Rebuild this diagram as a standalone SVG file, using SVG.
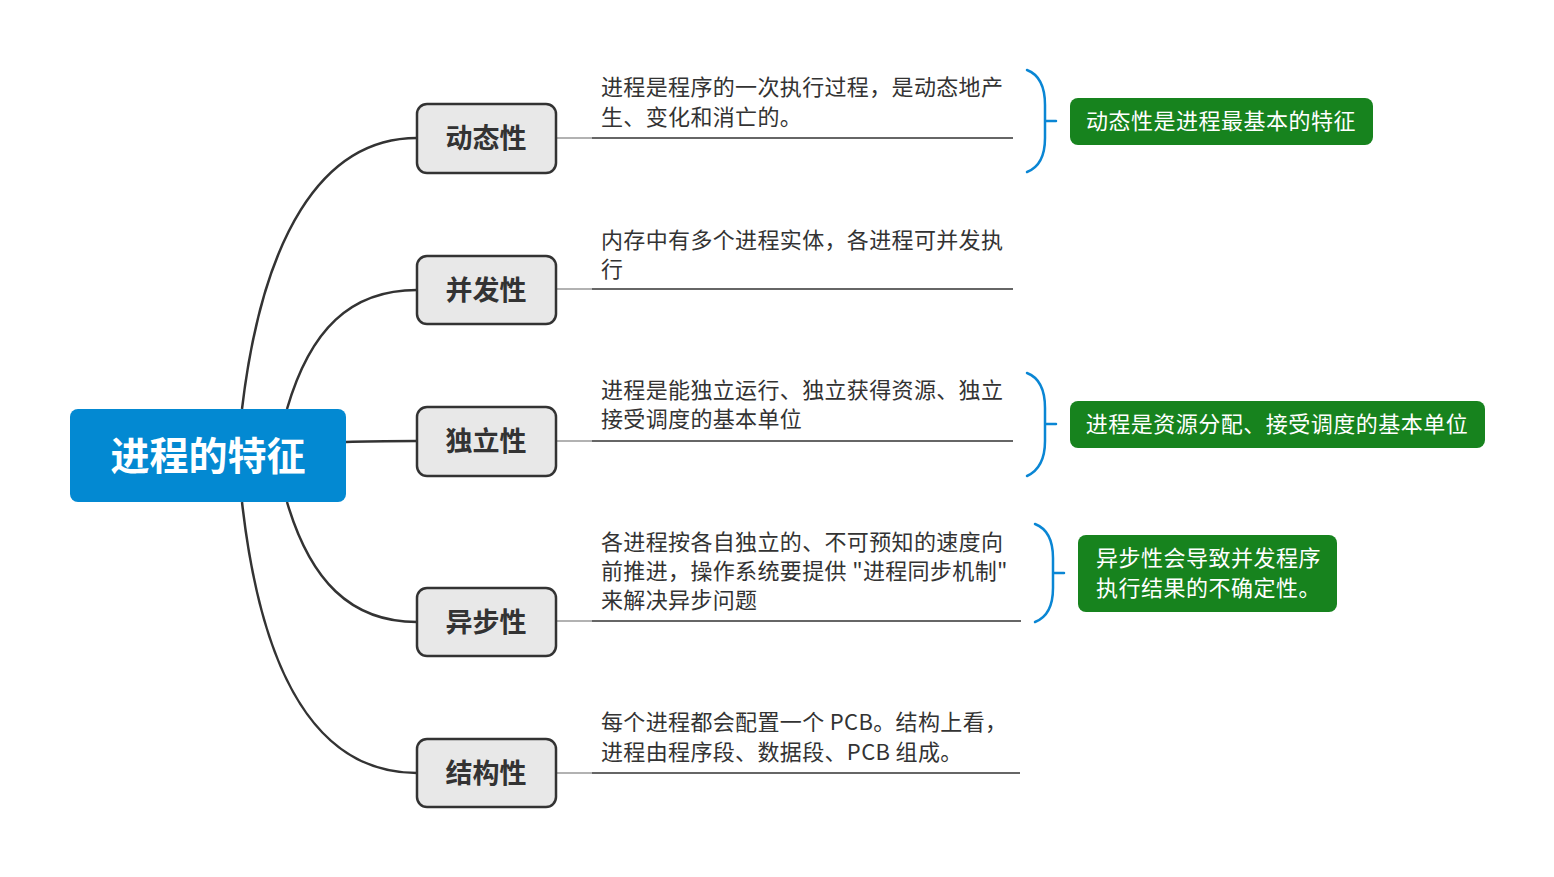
<svg xmlns="http://www.w3.org/2000/svg" width="1554" height="877" viewBox="0 0 1554 877">
<style>
.root{fill:#0389D2}
.rootT{font-family:"Noto Sans CJK SC",sans-serif;font-size:39px;font-weight:bold;fill:#fff}
.br{fill:#E8E8E8;stroke:#333;stroke-width:2.5}
.brT{font-family:"Noto Sans CJK SC",sans-serif;font-size:27px;font-weight:bold;fill:#333}
.con{fill:none;stroke:#333;stroke-width:2.5}
.ul{stroke:#333;stroke-width:1.6}
.ulg{stroke:#999;stroke-width:1.6}
.txt{font-family:"Noto Sans CJK SC",sans-serif;font-size:22px;letter-spacing:0.35px;fill:#333}
.brace{fill:none;stroke:#0A86D4;stroke-width:2.5;stroke-linecap:round}
.gb{fill:#17831E}
.gT{font-family:"Noto Sans CJK SC",sans-serif;font-size:22px;letter-spacing:0.5px;fill:#fff}
</style>
<g id="connectors">
<path class="con" d="M242,409 C262,240 320,138 417,138"/>
<path class="con" d="M287,409 C310,330 350,290 417,290"/>
<path class="con" d="M346,442 C370,441 390,441 417,441"/>
<path class="con" d="M287,502 C310,580 350,622 417,622"/>
<path class="con" d="M242,502 C262,680 320,773 417,773"/>
<line class="ulg" x1="556" y1="138" x2="592" y2="138"/>
<line class="ul" x1="592" y1="138" x2="1013" y2="138"/>
<line class="ulg" x1="556" y1="289" x2="592" y2="289"/>
<line class="ul" x1="592" y1="289" x2="1013" y2="289"/>
<line class="ulg" x1="556" y1="441" x2="592" y2="441"/>
<line class="ul" x1="592" y1="441" x2="1013" y2="441"/>
<line class="ulg" x1="556" y1="621" x2="592" y2="621"/>
<line class="ul" x1="592" y1="621" x2="1021" y2="621"/>
<line class="ulg" x1="556" y1="773" x2="592" y2="773"/>
<line class="ul" x1="592" y1="773" x2="1020" y2="773"/>
</g>
<g id="root">
<rect class="root" x="70" y="409" width="276" height="93" rx="8"/>
<text class="rootT" x="208" y="470" text-anchor="middle">进程的特征</text>
</g>
<g id="n1">
<rect class="br" x="417" y="104" width="139" height="69" rx="10"/>
<text class="brT" x="486" y="148" text-anchor="middle">动态性</text>
</g>
<g id="n2">
<rect class="br" x="417" y="256" width="139" height="68" rx="10"/>
<text class="brT" x="486" y="300" text-anchor="middle">并发性</text>
</g>
<g id="n3">
<rect class="br" x="417" y="407" width="139" height="69" rx="10"/>
<text class="brT" x="486" y="451" text-anchor="middle">独立性</text>
</g>
<g id="n4">
<rect class="br" x="417" y="588" width="139" height="68" rx="10"/>
<text class="brT" x="486" y="632" text-anchor="middle">异步性</text>
</g>
<g id="n5">
<rect class="br" x="417" y="739" width="139" height="68" rx="10"/>
<text class="brT" x="486" y="783" text-anchor="middle">结构性</text>
</g>
<g id="t1">
<text class="txt" x="601" y="95">进程是程序的一次执行过程，是动态地产</text>
<text class="txt" x="601" y="125">生、变化和消亡的。</text>
</g>
<g id="t2">
<text class="txt" x="601" y="248">内存中有多个进程实体，各进程可并发执</text>
<text class="txt" x="601" y="277">行</text>
</g>
<g id="t3">
<text class="txt" x="601" y="398">进程是能独立运行、独立获得资源、独立</text>
<text class="txt" x="601" y="427">接受调度的基本单位</text>
</g>
<g id="t4">
<text class="txt" x="601" y="550">各进程按各自独立的、不可预知的速度向</text>
<text class="txt" x="601" y="579">前推进，操作系统要提供 "进程同步机制"</text>
<text class="txt" x="601" y="608">来解决异步问题</text>
</g>
<g id="t5">
<text class="txt" x="601" y="730">每个进程都会配置一个 PCB。结构上看，</text>
<text class="txt" x="601" y="760">进程由程序段、数据段、PCB 组成。</text>
</g>
<g id="brace1">
<path class="brace" d="M1027,70 C1040,75 1045,88 1045,105 L1045,138 C1045,155 1040,167 1027,172 M1045,121 L1056,121"/>
</g>
<g id="brace2">
<path class="brace" d="M1027,373 C1040,378 1045,391 1045,408 L1045,441 C1045,458 1040,470 1027,476 M1045,424 L1056,424"/>
</g>
<g id="brace3">
<path class="brace" d="M1035,524 C1048,529 1053,542 1053,558 L1053,588 C1053,605 1048,617 1035,622 M1053,573 L1064,573"/>
</g>
<g id="g1">
<rect class="gb" x="1070" y="98" width="303" height="47" rx="8"/>
<text class="gT" x="1221" y="129" text-anchor="middle">动态性是进程最基本的特征</text>
</g>
<g id="g2">
<rect class="gb" x="1070" y="401" width="415" height="47" rx="8"/>
<text class="gT" x="1277" y="432" text-anchor="middle">进程是资源分配、接受调度的基本单位</text>
</g>
<g id="g3">
<rect class="gb" x="1078" y="535" width="259" height="77" rx="8"/>
<text class="gT" x="1096" y="566">异步性会导致并发程序</text>
<text class="gT" x="1096" y="596">执行结果的不确定性。</text>
</g>
</svg>
